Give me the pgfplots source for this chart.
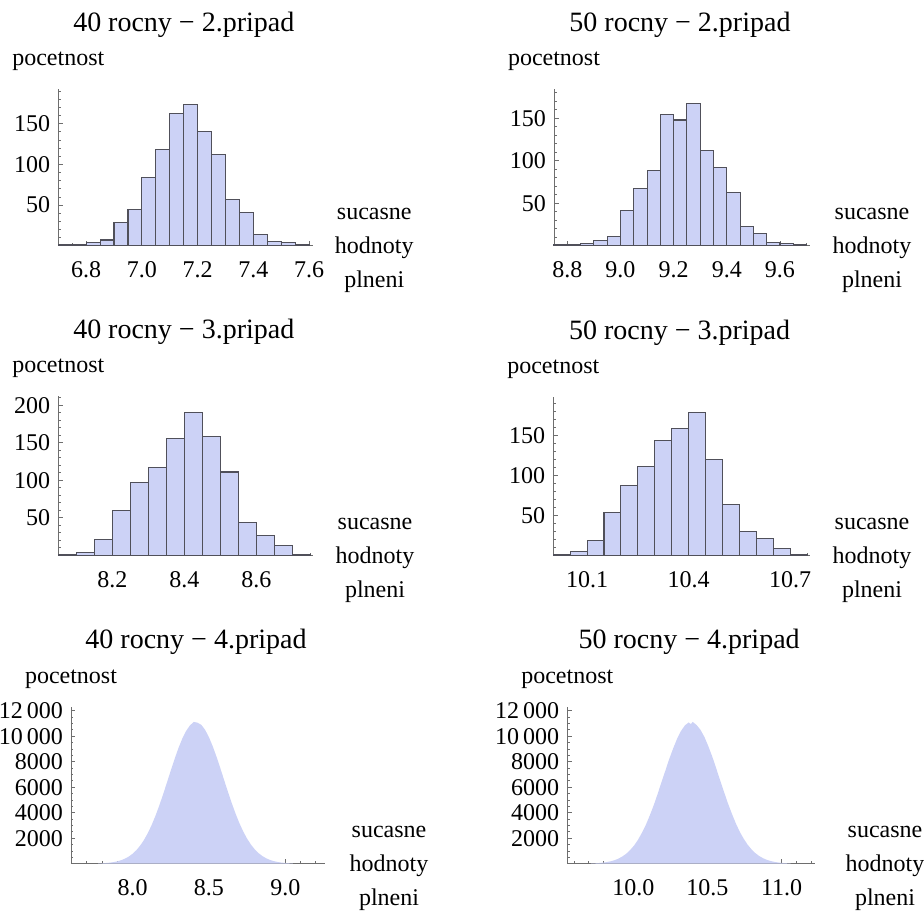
\documentclass[border=0pt]{standalone}
\usepackage{pgfplots}
\pgfplotsset{compat=1.18}
\usepackage{fontspec}
\setmainfont{Liberation Serif}
\definecolor{barfill}{RGB}{204,210,246}
\definecolor{baredge}{RGB}{80,80,90}
\definecolor{axcol}{RGB}{110,110,110}
\newcommand{\tf}{\fontsize{24}{24}\selectfont}
\pgfplotsset{
 mm/.style={
  scale only axis,
  anchor=south west,
  axis lines*=left,
  axis line style={axcol, line width=0.8pt},
  tick style={axcol, line width=0.8pt},
  tick align=inside,
  major tick length=4.5pt,
  minor tick length=2.5pt,
  ymin=0,
  scaled y ticks=false,
  scaled x ticks=false,
  /pgf/number format/assume math mode=true,
  ticklabel style={font=\tf, text=black},
  yticklabel style={anchor=east, inner sep=0pt, xshift=-8pt},
  xticklabel style={anchor=north, inner sep=0pt, yshift=-16pt},
  every axis title/.style={at={(0.5,1)}, anchor=base, yshift=58pt, xshift=-2pt, font=\fontsize{28}{28}\selectfont},
  every axis y label/.style={at={(0,1)}, anchor=base, yshift=23.5pt, font=\tf},
  ylabel={pocetnost},
  xlabel={sucasne\\hodnoty\\plneni},
  clip=false,
 },
 xlab/.style={every axis x label/.style={at={(1,0)}, anchor=center, xshift=#1, yshift=-5pt, align=center, font=\fontsize{24}{34}\selectfont}},
 bars/.style={ybar interval, fill=barfill, draw=baredge, line width=1.1pt},
}
\begin{document}
\begin{tikzpicture}
\useasboundingbox (0,0) rectangle (924pt,913pt);

% ---- 40 rocny - 2.pripad
\begin{axis}[mm, xlab=61pt, at={(58.3pt,667.3pt)}, width=255pt, height=156.4pt,
  xmin=6.7, xmax=7.615, ymax=192.4,
  title={40 rocny − 2.pripad},
  xtick={6.8,7.0,7.2,7.4,7.6}, xticklabels={6.8,7.0,7.2,7.4,7.6},
  minor xtick={6.75,6.85,6.9,6.95,7.05,7.1,7.15,7.25,7.3,7.35,7.45,7.5,7.55},
  ytick={50,100,150}, yticklabels={50,100,150},
  minor ytick={10,20,30,40,60,70,80,90,110,120,130,140,160,170,180,190}]
\addplot[bars] coordinates {
(6.70,1) (6.75,1) (6.80,4) (6.85,7) (6.90,29) (6.95,44) (7.00,84) (7.05,118)
(7.10,163) (7.15,174) (7.20,141) (7.25,112) (7.30,57) (7.35,41) (7.40,14)
(7.45,5) (7.50,4) (7.55,1) (7.60,1)};
\end{axis}

% ---- 50 rocny - 2.pripad
\begin{axis}[mm, xlab=62pt, at={(554pt,667.3pt)}, width=256pt, height=156.4pt,
  xmin=8.75, xmax=9.713, ymax=184.2,
  title={50 rocny − 2.pripad},
  xtick={8.8,9.0,9.2,9.4,9.6}, xticklabels={8.8,9.0,9.2,9.4,9.6},
  minor xtick={8.85,8.9,8.95,9.05,9.1,9.15,9.25,9.3,9.35,9.45,9.5,9.55,9.65,9.7},
  ytick={50,100,150}, yticklabels={50,100,150},
  minor ytick={10,20,30,40,60,70,80,90,110,120,130,140,160,170,180}]
\addplot[bars] coordinates {
(8.75,1) (8.80,1) (8.85,3) (8.90,6) (8.95,11) (9.00,41) (9.05,67) (9.10,89)
(9.15,154) (9.20,148) (9.25,167) (9.30,112) (9.35,92) (9.40,63) (9.45,23)
(9.50,14) (9.55,4) (9.60,3) (9.65,1) (9.70,1)};
\end{axis}

% ---- 40 rocny - 3.pripad
\begin{axis}[mm, xlab=61.7pt, at={(58.3pt,357.9pt)}, width=255pt, height=159pt,
  xmin=8.05, xmax=8.758, ymax=212.4,
  title={40 rocny − 3.pripad},
  xtick={8.2,8.4,8.6}, xticklabels={8.2,8.4,8.6},
  minor xtick={8.1,8.15,8.25,8.3,8.35,8.45,8.5,8.55,8.65,8.7,8.75},
  ytick={50,100,150,200}, yticklabels={50,100,150,200},
  minor ytick={10,20,30,40,60,70,80,90,110,120,130,140,160,170,180,190,210}]
\addplot[bars] coordinates {
(8.05,1) (8.10,4) (8.15,21) (8.20,60) (8.25,97) (8.30,117) (8.35,156)
(8.40,190) (8.45,159) (8.50,111) (8.55,44) (8.60,26) (8.65,13) (8.70,1) (8.75,1)};
\end{axis}

% ---- 50 rocny - 3.pripad
\begin{axis}[mm, xlab=62pt, at={(553.3pt,357.7pt)}, width=256.7pt, height=158pt,
  xmin=10.0, xmax=10.759, ymax=197.5,
  title={50 rocny − 3.pripad},
  xtick={10.1,10.4,10.7}, xticklabels={10.1,10.4,10.7},
  minor xtick={10.05,10.15,10.2,10.25,10.3,10.35,10.45,10.5,10.55,10.6,10.65,10.75},
  ytick={50,100,150}, yticklabels={50,100,150},
  minor ytick={10,20,30,40,60,70,80,90,110,120,130,140,160,170,180,190}]
\addplot[bars] coordinates {
(10.00,1) (10.05,5) (10.10,18) (10.15,53) (10.20,87) (10.25,111) (10.30,143)
(10.35,159) (10.40,178) (10.45,120) (10.50,64) (10.55,30) (10.60,21)
(10.65,9) (10.70,1) (10.75,1)};
\end{axis}

% ---- 40 rocny - 4.pripad
\begin{axis}[mm, xlab=64pt, at={(71pt,49.3pt)}, width=254pt, height=157pt,
  xmin=7.597, xmax=9.26, ymax=12314,
  title={40 rocny − 4.pripad},
  xtick={8.0,8.5,9.0}, xticklabels={8.0,8.5,9.0},
  minor xtick={7.6,7.7,7.8,7.9,8.1,8.2,8.3,8.4,8.6,8.7,8.8,8.9,9.1,9.2},
  ytick={2000,4000,6000,8000,10000,12000},
  yticklabels={2000,4000,6000,8000,10\,000,12\,000},
  minor ytick={500,1000,1500,2500,3000,3500,4500,5000,5500,6500,7000,7500,8500,9000,9500,10500,11000,11500}]
\addplot[fill=barfill, draw=none] coordinates {
(7.775,20) (7.800,32) (7.825,52) (7.850,81) (7.875,123) (7.900,185) (7.925,273)
(7.950,394) (7.975,559) (8.000,778) (8.025,1062) (8.050,1421) (8.075,1865)
(8.100,2401) (8.125,3032) (8.150,3755) (8.175,4563) (8.200,5439) (8.225,6359)
(8.250,7293) (8.275,8203) (8.300,9051) (8.325,9796) (8.350,10400) (8.375,10829)
(8.400,11120) (8.425,11060) (8.450,10892) (8.475,10500) (8.500,9929) (8.525,9210)
(8.550,8379) (8.575,7478) (8.600,6546) (8.625,5620) (8.650,4734) (8.675,3911)
(8.700,3169) (8.725,2519) (8.750,1964) (8.775,1502) (8.800,1127) (8.825,829)
(8.850,598) (8.875,424) (8.900,294) (8.925,200) (8.950,134) (8.975,88)
(9.000,56) (9.025,36) (9.050,22)} \closedcycle;
\end{axis}

% ---- 50 rocny - 4.pripad
\begin{axis}[mm, xlab=70pt, at={(567.3pt,49.3pt)}, width=247.7pt, height=157pt,
  xmin=9.555, xmax=11.225, ymax=12314,
  title={50 rocny − 4.pripad},
  xtick={10.0,10.5,11.0}, xticklabels={10.0,10.5,11.0},
  minor xtick={9.6,9.7,9.8,9.9,10.1,10.2,10.3,10.4,10.6,10.7,10.8,10.9,11.1,11.2},
  ytick={2000,4000,6000,8000,10000,12000},
  yticklabels={2000,4000,6000,8000,10\,000,12\,000},
  minor ytick={500,1000,1500,2500,3000,3500,4500,5000,5500,6500,7000,7500,8500,9000,9500,10500,11000,11500}]
\addplot[fill=barfill, draw=none] coordinates {
(9.714,20) (9.741,32) (9.767,52) (9.793,81) (9.820,123) (9.846,185) (9.873,273)
(9.899,394) (9.925,559) (9.952,778) (9.978,1062) (10.005,1421) (10.031,1865)
(10.057,2401) (10.084,3032) (10.110,3755) (10.137,4563) (10.163,5439) (10.189,6359)
(10.216,7293) (10.242,8203) (10.269,9051) (10.295,9796) (10.321,10400) (10.348,10850)
(10.374,11080) (10.387,10950) (10.401,11120) (10.427,10870) (10.453,10500) (10.480,9929)
(10.506,9210) (10.533,8379) (10.559,7478) (10.585,6546) (10.612,5620) (10.638,4734)
(10.665,3911) (10.691,3169) (10.717,2519) (10.744,1964) (10.770,1502) (10.797,1127)
(10.823,829) (10.849,598) (10.876,424) (10.902,294) (10.929,200) (10.955,134)
(10.981,88) (11.008,56) (11.034,36) (11.061,22)} \closedcycle;
\end{axis}
\end{tikzpicture}
\end{document}
